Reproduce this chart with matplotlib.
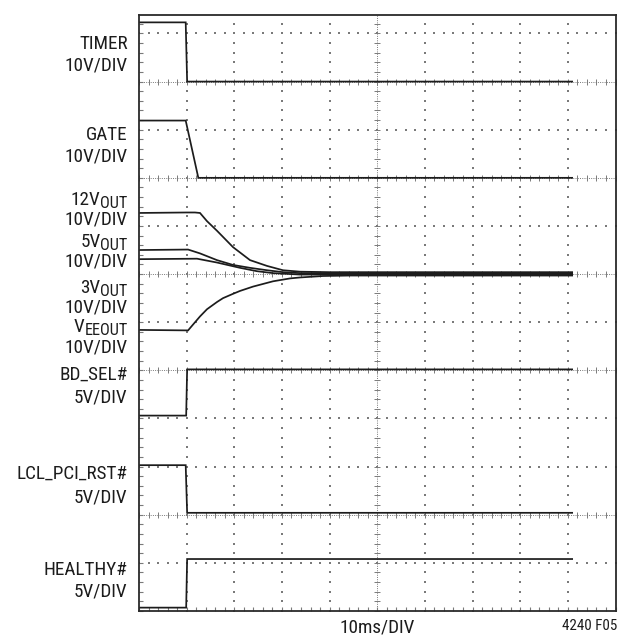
import matplotlib
matplotlib.use("Agg")
import matplotlib.pyplot as plt
from matplotlib import font_manager
import numpy as np

# Trace data in scope divisions (x: 0-10 time div, y: 0 = bottom graticule line)
timer_x = [0, 0.98, 1.01, 9.09]
timer_y = [12.23, 12.23, 11.0, 11.0]

gate_x = [0, 0.98, 1.245, 9.09]
gate_y = [10.19, 10.19, 9.0, 9.0]

v12_x = [0, 1.0, 1.175, 1.28, 1.427, 1.637, 1.973, 2.33, 2.686, 3.022, 3.379, 4.008, 9.09]
v12_y = [8.27, 8.28, 8.28, 8.27, 8.10, 7.90, 7.56, 7.29, 7.17, 7.08, 7.05, 7.04, 7.04]

v5_x = [0, 1.03, 1.28, 1.637, 1.973, 2.33, 2.686, 3.022, 3.379, 4.008, 9.09]
v5_y = [7.50, 7.51, 7.43, 7.29, 7.19, 7.13, 7.08, 7.04, 7.02, 7.02, 7.02]

v3_x = [0, 1.217, 1.637, 2.12, 2.476, 2.812, 3.379, 4.008, 9.09]
v3_y = [7.31, 7.32, 7.24, 7.13, 7.06, 7.02, 6.99, 6.99, 6.99]

vee_x = [0, 1.03, 1.133, 1.28, 1.427, 1.637, 1.763, 1.973, 2.12, 2.392, 2.812, 3.169, 3.379, 3.862, 4.428, 9.09]
vee_y = [5.84, 5.83, 5.95, 6.12, 6.27, 6.42, 6.50, 6.59, 6.65, 6.74, 6.85, 6.91, 6.93, 6.96, 6.97, 6.97]

bdsel_x = [0, 0.99, 1.01, 9.09]
bdsel_y = [4.06, 4.06, 5.02, 5.02]

lcl_x = [0, 0.98, 1.01, 9.09]
lcl_y = [3.03, 3.03, 2.04, 2.04]

healthy_x = [0, 0.99, 1.01, 9.09]
healthy_y = [0.07, 0.07, 1.08, 1.08]

traces = [(timer_x, timer_y), (gate_x, gate_y), (v12_x, v12_y), (v5_x, v5_y),
          (v3_x, v3_y), (vee_x, vee_y), (bdsel_x, bdsel_y), (lcl_x, lcl_y),
          (healthy_x, healthy_y)]

# channel labels: (main text, subscript, baseline in pixels from top)
labels = [("TIMER", "", 49.3), ("10V/DIV", "", 70.7),
          ("GATE", "", 140), ("10V/DIV", "", 161.7),
          ("12V", "OUT", 205), ("10V/DIV", "", 224),
          ("5V", "OUT", 247), ("10V/DIV", "", 267),
          ("3V", "OUT", 293), ("10V/DIV", "", 312),
          ("V", "EEOUT", 332), ("10V/DIV", "", 352),
          ("BD_SEL#", "", 380), ("5V/DIV", "", 402),
          ("LCL_PCI_RST#", "", 479), ("5V/DIV", "", 502),
          ("HEALTHY#", "", 575), ("5V/DIV", "", 596)]

dense_rows = [11, 9, 7, 5, 2]
sparse_rows = [1, 3, 4, 6, 8, 10, 12]
sparse_cols = [1, 2, 3, 4, 6, 7, 8, 9]
dense_cols = [5]

W, H = 618, 636
GRID = '#7a7a7a'
INK = '#1c1c1c'


def pick_font():
  for name in ['Liberation Sans Narrow', 'Roboto Condensed', 'Roboto', 'Liberation Sans']:
    try:
      font_manager.findfont(name, fallback_to_default=False)
      return name
    except ValueError:
      continue
  return 'DejaVu Sans'


FONT = pick_font()
plt.rcParams['font.family'] = [FONT, 'DejaVu Sans']

fig = plt.figure(figsize=(W/100, H/100), dpi=100)
ax = fig.add_axes([139/W, (H-611)/H, 476.5/W, 596/H])
ax.set_xlim(0, 10)
ax.set_ylim(0, 596/48.13)

minor = np.arange(0, 10.01, 0.2)
minor_y = np.arange(0, 12.39, 0.2)

# sparse dotted graticule
for r in sparse_rows:
  ax.plot(minor, [r]*len(minor), ls='none', marker='s', ms=1.5, mew=0, color=GRID)
for c in sparse_cols:
  ax.plot([c]*len(minor_y), minor_y, ls='none', marker='s', ms=1.5, mew=0, color=GRID)

# dense axes with small ticks
for r in dense_rows:
  ax.axhline(r, color=GRID, lw=0.7, ls=(0, (1, 1.3)))
  ax.plot(minor, [r]*len(minor), ls='none', marker='|', ms=4, mew=0.7, color=GRID)
for c in dense_cols:
  ax.axvline(c, color=GRID, lw=0.7, ls=(0, (1, 1.3)))
  ax.plot([c]*len(minor_y), minor_y, ls='none', marker='_', ms=4, mew=0.7, color=GRID)

for tx, ty in traces:
  ax.plot(tx, ty, color=INK, lw=1.25, solid_joinstyle='miter')

ax.set_xticks(minor)
ax.set_yticks(minor_y)
ax.tick_params(direction='in', length=3, width=0.8, color=GRID,
               labelbottom=False, labelleft=False)
for s in ax.spines.values():
  s.set_color('#2a2a2a')
  s.set_linewidth(1.3)

# channel labels, right aligned against the graticule
renderer = fig.canvas.get_renderer()
xr = 127.7/W
for main, sub, base in labels:
  y = (H - base)/H
  if sub:
    t = fig.text(xr, (H - base - 3.3)/H, sub, ha='right', va='baseline',
                 fontsize=11.7, color=INK)
    bb = t.get_window_extent(renderer)
    fig.text(bb.x0/W, y, main, ha='right', va='baseline', fontsize=13.8, color=INK)
  else:
    t = fig.text(xr, y, main, ha='right', va='baseline', fontsize=13.8, color=INK)
    bb = t.get_window_extent(renderer)
    if bb.x0 < 12:
      # shrink a label that would run off the left edge
      t.set_fontsize(13.8*(127.7 - 12)/bb.width)

fig.text(377.5/W, (H - 633)/H, "10ms/DIV", ha='center', va='baseline',
         fontsize=13.8, color=INK)
fig.text(617/W, (H - 629.5)/H, "4240 F05", ha='right', va='baseline',
         fontsize=10.8, color=INK)

fig.savefig("out.png", dpi=100)
